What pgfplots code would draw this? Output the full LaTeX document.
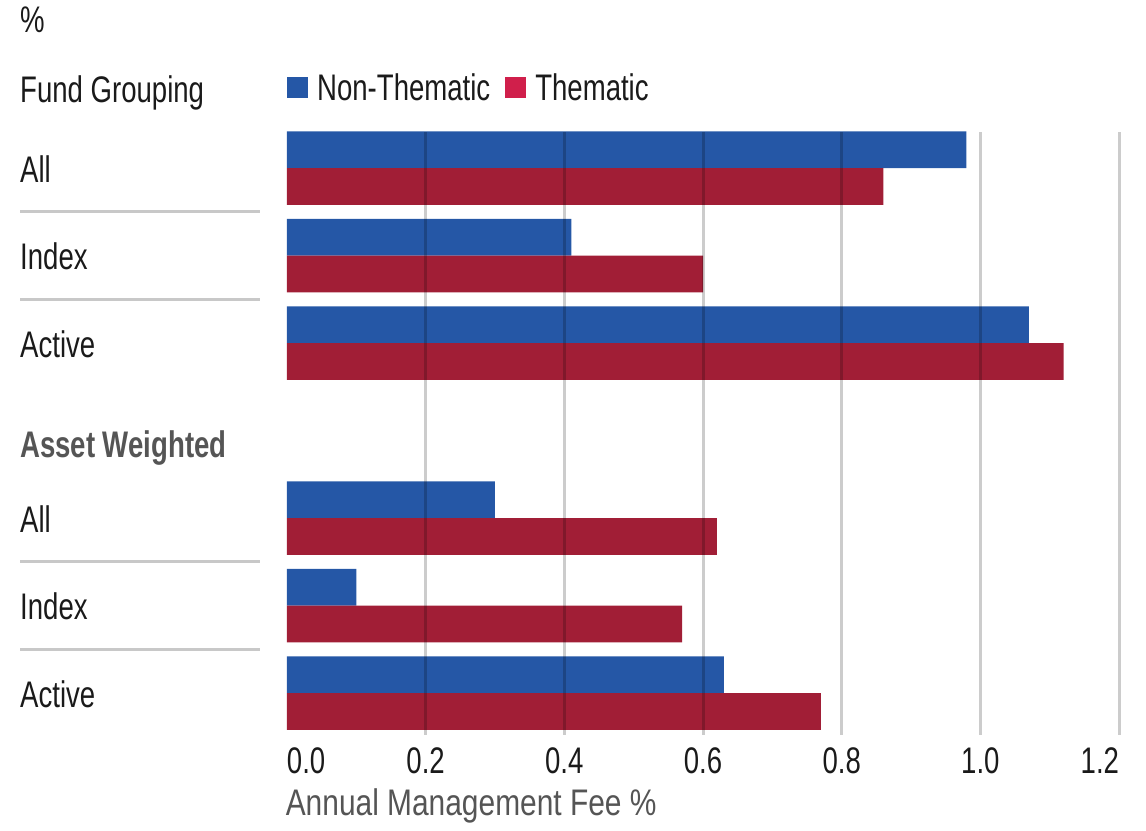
\documentclass[border=0pt]{standalone}
\usepackage{fontspec}
\setmainfont{Liberation Sans}[FakeStretch=0.745]
\usepackage{graphicx}
\usepackage{pgfplots}
\pgfplotsset{compat=1.18}
\definecolor{ntblue}{HTML}{2557A6}
\definecolor{tred}{HTML}{A11E36}
\definecolor{tredleg}{HTML}{D01F4B}
\definecolor{sepgray}{HTML}{C8C8C8}
\definecolor{lblgray}{HTML}{555555}
\definecolor{txt}{HTML}{1A1A1A}
\pgfplotstableread{
y nt t
0 0.98 0.86
1 0.41 0.60
2 1.07 1.12
4 0.30 0.62
5 0.10 0.57
6 0.63 0.77
}\datatable
\begin{document}
\begin{tikzpicture}[font=\fontsize{37}{44}\selectfont]
\begin{axis}[
  scale only axis, width=832pt, height=603pt,
  xmin=0, xmax=1.2, ymin=-0.4114, ymax=6.48,
  y dir=reverse, clip=false,
  axis line style={draw=none}, tick style={draw=none},
  ytick=\empty,
  xtick={0,0.2,0.4,0.6,0.8,1.0,1.2},
  xticklabels={\rlap{0.0},0.2,0.4,0.6,0.8,1.0,\llap{1.2}},
  xticklabel style={font=\fontsize{37}{44}\selectfont, text=txt, anchor=base, yshift=-38pt},
  extra x ticks={0.2,0.4,0.6,0.8,1.0,1.2}, extra x tick labels={},
  extra x tick style={grid=major, major grid style={black, opacity=0.2, line width=3pt}},
  axis on top,
  legend style={draw=none, fill=none, at={(0,1.073)}, anchor=west, legend columns=2,
    font=\fontsize{37}{44}\selectfont, text=txt, inner sep=0pt,
    nodes={inner sep=0pt},
    /tikz/every odd column/.append style={column sep=9pt},
    /tikz/every even column/.append style={column sep=15pt}},
  legend image code/.code={\fill[#1] (0pt,-10.5pt) rectangle (21pt,10.5pt);},
]
\addplot[xbar, bar width=0.42, bar shift=-0.21, fill=ntblue, draw=none, forget plot] table[x=nt, y=y] {\datatable};
\addplot[xbar, bar width=0.42, bar shift=0.21, fill=tred, draw=none, forget plot] table[x=t, y=y] {\datatable};
\addlegendimage{fill=ntblue, draw=none}
\addlegendentry{Non-Thematic}
\addlegendimage{fill=tredleg, draw=none}
\addlegendentry{Thematic}

% separators
\draw[sepgray, line width=3pt] (axis cs:-0.385,0.5) -- (axis cs:-0.039,0.5);
\draw[sepgray, line width=3pt] (axis cs:-0.385,1.5) -- (axis cs:-0.039,1.5);
\draw[sepgray, line width=3pt] (axis cs:-0.385,4.5) -- (axis cs:-0.039,4.5);
\draw[sepgray, line width=3pt] (axis cs:-0.385,5.5) -- (axis cs:-0.039,5.5);

% labels
\node[anchor=base west, inner sep=0pt, text=txt] at (axis cs:-0.385,-1.543) {\%};
\node[anchor=base west, inner sep=0pt, text=txt] at (axis cs:-0.385,-0.754) {Fund Grouping};
\node[anchor=base west, inner sep=0pt, text=txt] at (axis cs:-0.385,0.16) {All};
\node[anchor=base west, inner sep=0pt, text=txt] at (axis cs:-0.385,1.16) {Index};
\node[anchor=base west, inner sep=0pt, text=txt] at (axis cs:-0.385,2.16) {Active};
\node[anchor=base west, inner sep=0pt, text=lblgray, font=\fontsize{37}{44}\selectfont\bfseries] at (axis cs:-0.385,3.303) {Asset Weighted};
\node[anchor=base west, inner sep=0pt, text=txt] at (axis cs:-0.385,4.16) {All};
\node[anchor=base west, inner sep=0pt, text=txt] at (axis cs:-0.385,5.16) {Index};
\node[anchor=base west, inner sep=0pt, text=txt] at (axis cs:-0.385,6.16) {Active};
\node[anchor=base west, inner sep=0pt, text=lblgray] at (axis cs:-0.002,7.394) {\scalebox{1.085}[1]{Annual Management Fee \%}};

\path (axis cs:-0.4139,-1.92) rectangle (axis cs:1.2389,7.566);
\end{axis}
\end{tikzpicture}
\end{document}
